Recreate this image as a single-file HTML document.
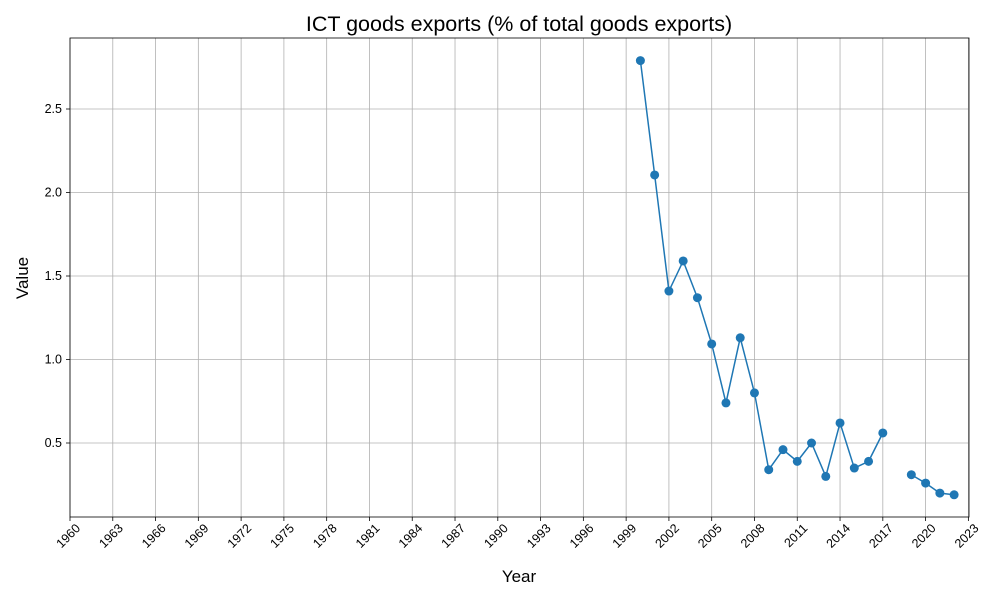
<!DOCTYPE html>
<html><head><meta charset="utf-8"><style>
body{margin:0;background:#fff;font-family:"Liberation Sans","DejaVu Sans",sans-serif}
</style></head><body>
<svg id="chart" width="1000" height="600" xmlns="http://www.w3.org/2000/svg"></svg>
<script>
const years=[2000,2001,2002,2003,2004,2005,2006,2007,2008,2009,2010,2011,2012,2013,2014,2015,2016,2017,2018,2019,2020,2021,2022];
const values=[2.79,2.105,1.41,1.59,1.37,1.093,0.74,1.13,0.80,0.34,0.46,0.39,0.50,0.30,0.62,0.35,0.39,0.56,null,0.31,0.26,0.20,0.19];
const xTicks=[1960,1963,1966,1969,1972,1975,1978,1981,1984,1987,1990,1993,1996,1999,2002,2005,2008,2011,2014,2017,2020,2023];
const yTicks=[0.5,1.0,1.5,2.0,2.5];
const L=70,R=969,T=38,B=517;
const x=v=>70+(v-1960)*14.26;
const y=v=>443-(v-0.5)*167;
const svg=document.getElementById('chart');
const NS='http://www.w3.org/2000/svg';
function mk(tag,attrs,parent){const e=document.createElementNS(NS,tag);for(const k in attrs)e.setAttribute(k,attrs[k]);(parent||svg).appendChild(e);return e;}
const grid=mk('g',{});


xTicks.forEach(t=>{
 mk('line',{x1:x(t),x2:x(t),y1:T,y2:B,stroke:'#b0b0b0','stroke-width':0.8},grid);
 mk('line',{x1:x(t),x2:x(t),y1:B,y2:B+4,stroke:'#000','stroke-width':0.8});
 const ax=x(t)+11, ay=B+12;
 const tx=mk('text',{x:ax,y:ay,'font-size':12.5,'text-anchor':'end',transform:`rotate(-45 ${ax} ${ay})`});
 tx.textContent=t;
 
 
});
yTicks.forEach(t=>{
 mk('line',{x1:L,x2:R,y1:y(t),y2:y(t),stroke:'#b0b0b0','stroke-width':0.8},grid);
 mk('line',{x1:L-4,x2:L,y1:y(t),y2:y(t),stroke:'#000','stroke-width':0.8});
 const tx=mk('text',{x:L-8,y:y(t)+4,'font-size':12.5,'text-anchor':'end'});
 tx.textContent=t.toFixed(1);
 
 
});
const frame=mk('rect',{x:L,y:T,width:R-L,height:B-T,fill:'none',stroke:'#000','stroke-width':0.8});


let d='',pen=false;
years.forEach((yr,i)=>{const v=values[i];if(v==null){pen=false;return;}d+=(pen?'L':'M')+x(yr)+' '+y(v)+' ';pen=true;});
const line=mk('path',{d:d,fill:'none',stroke:'#1f77b4','stroke-width':1.5});


years.forEach((yr,i)=>{const v=values[i];if(v==null)return;
 const c=mk('circle',{cx:x(yr),cy:y(v),r:4.5,fill:'#1f77b4'});
 
 
});
const title=mk('text',{x:519,y:31,'font-size':21.5,'text-anchor':'middle'});title.textContent='ICT goods exports (% of total goods exports)';


const xl=mk('text',{x:519,y:582,'font-size':17,'text-anchor':'middle'});xl.textContent='Year';


const yl=mk('text',{x:28,y:278,'font-size':17,'text-anchor':'middle',transform:'rotate(-90 28 278)'});yl.textContent='Value';


</script>
</body></html>
